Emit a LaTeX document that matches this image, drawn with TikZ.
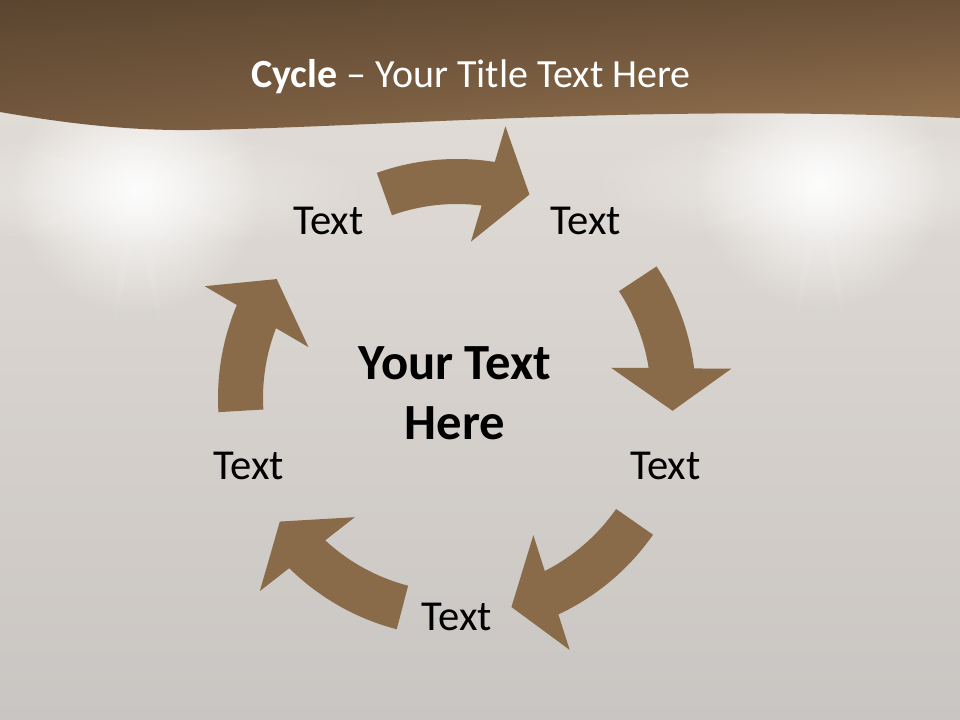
\documentclass[tikz,border=0pt]{standalone}
\usepackage{fontspec}
\setmainfont{Carlito}
\usepackage{tikz}
\usetikzlibrary{fadings, shadings}

\definecolor{bgtop}{HTML}{E4DFD9}
\definecolor{bgbottom}{HTML}{C9C5C2}
\definecolor{headdark}{HTML}{5B4530}
\definecolor{headlight}{HTML}{957350}
\definecolor{arrowbrown}{HTML}{8A6B49}
\tikzfading[name=glowfade, inner color=transparent!0, outer color=transparent!100]

\begin{document}
\begin{tikzpicture}[x=0.75pt, y=0.75pt,
	label/.style={font=\fontsize{32}{38}\selectfont, text=black},
	arrowfill/.style={fill=arrowbrown}]
	\useasboundingbox (0,0) rectangle (960,720);
	
	% background and the two lights
	\shade[top color=bgtop, bottom color=bgbottom] (0,0) rectangle (960,720);
	\foreach \gx/\gy in {137/530, 820/536}{
		\fill[white, path fading=glowfade, opacity=.9] (\gx,\gy) circle (125);
		\fill[white, path fading=glowfade, opacity=.45] (\gx,\gy) ellipse (230 and 60);
		\foreach \r in {-80,-100,200,-20,160,20}
			\fill[white, path fading=glowfade, opacity=.1, shift={(\gx,\gy)}, rotate=\r] (0,-7) -- (180,0) -- (0,7) -- cycle;
	}
	
	% header band with the wave
	\shade[upper left=headdark, upper right=headdark!75!headlight, lower left=headdark!55!headlight, lower right=headlight]
		(0,720) -- (960,720) -- (960,602) .. controls (650,616) and (400,594) .. (200,590)
		.. controls (130,589) and (70,596) .. (0,608) -- cycle;
	\node[anchor=base, text=white, font=\fontsize{30}{36}\selectfont] (title) at (471,632.5)
		{\textbf{Cycle} – Your Title Text Here};
	
	\coordinate (C) at (457,322);
	
	% the five arrows
	\foreach \ta/\tb in {109.6/70.4, 33.4/-3.4, -34.9/-75.4, -104.6/-145.1, 183.4/146.6}
		\fill[arrowfill, shift={(C)}] (\ta:239) arc[start angle=\ta, end angle=\tb+10.5, radius=239]
			-- (\tb+9.5:276) -- (\tb:216) -- (\tb+14.5:157) -- (\tb+12.3:194)
			arc[start angle=\tb+12.3, end angle=\ta, radius=194] -- cycle;
	
	% labels
	\foreach \a/\n in {126/t1, 54/t2, -18/t3, -90/t4, 198/t5}
		\node[label] (\n) at ([shift={(\a:219)}]C) {Text};
	
	\node[anchor=base, align=center, font=\fontsize{38}{44.5}\selectfont\bfseries] (main) at (455,280.7) {Your Text\\Here};
\end{tikzpicture}
\end{document}
